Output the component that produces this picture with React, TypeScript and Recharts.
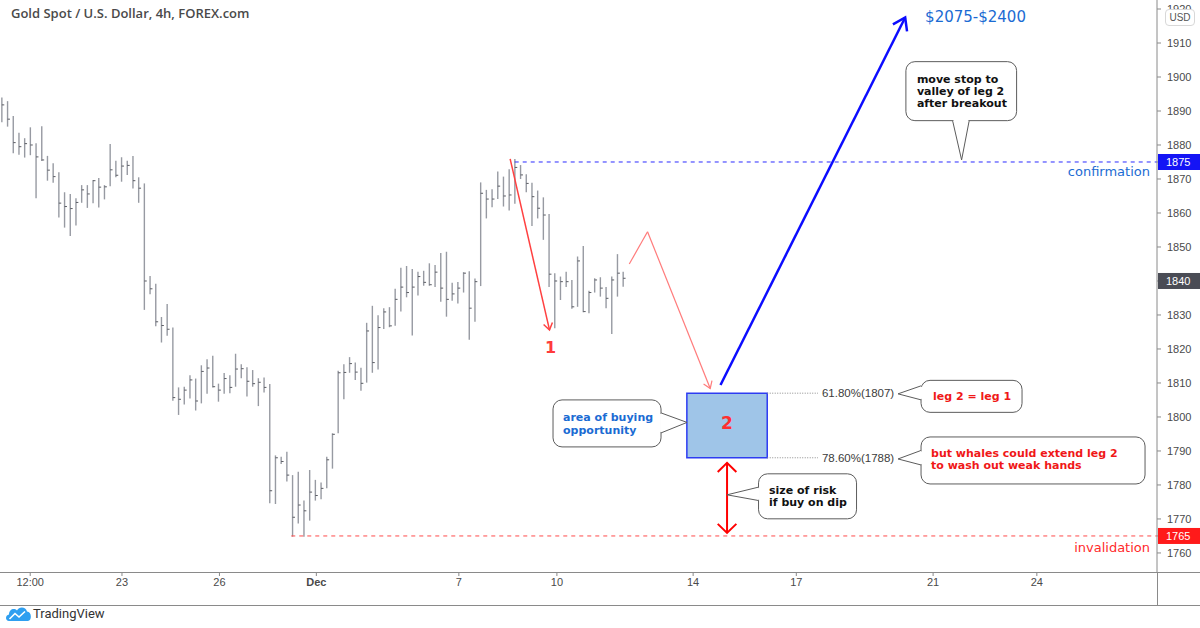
import React from "react";
import {
  ComposedChart,
  Bar,
  XAxis,
  YAxis,
  ReferenceLine,
  ReferenceArea,
  ReferenceDot,
} from "recharts";

// 4h OHLC bars, Gold spot
const highs = [
  1894.0, 1892.9, 1888.5, 1883.6, 1882.0, 1885.2, 1880.5, 1885.5, 1876.8, 1874.6,
  1872.0, 1866.1, 1865.6, 1864.3, 1868.2, 1868.2, 1869.7, 1870.3, 1868.2, 1880.3,
  1875.4, 1876.4, 1875.4, 1876.8, 1870.5, 1868.7, 1841.5, 1839.2, 1829.4, 1833.2,
  1826.3, 1808.7, 1808.9, 1812.3, 1811.3, 1815.2, 1817.0, 1818.0, 1809.8, 1812.9,
  1812.3, 1818.6, 1815.5, 1814.6, 1813.8, 1811.4, 1811.6, 1809.7, 1788.7, 1788.3,
  1789.8, 1782.9, 1783.9, 1775.4, 1784.4, 1781.5, 1780.7, 1788.3, 1795.2, 1813.6,
  1815.5, 1817.6, 1816.0, 1814.5, 1827.7, 1832.7, 1829.9, 1832.0, 1832.3, 1837.7,
  1843.9, 1844.4, 1843.5, 1842.7, 1843.0, 1845.2, 1844.7, 1848.2, 1848.6, 1839.5,
  1839.7, 1842.6, 1842.9, 1840.7, 1869.0, 1866.8, 1867.0, 1872.2, 1870.7, 1872.9,
  1875.9, 1874.1, 1871.4, 1868.9, 1866.6, 1864.6, 1859.7, 1842.3, 1841.3, 1842.7,
  1840.3, 1847.2, 1850.3, 1837.1, 1840.8, 1841.1, 1838.2, 1841.3, 1847.9, 1842.7,
];
const lows = [
  1886.7, 1885.4, 1877.6, 1877.1, 1876.3, 1877.0, 1864.3, 1875.3, 1869.5, 1868.9,
  1858.7, 1855.7, 1853.2, 1856.3, 1863.0, 1861.5, 1862.9, 1861.6, 1864.0, 1867.9,
  1870.5, 1869.2, 1871.2, 1867.2, 1863.0, 1831.5, 1836.1, 1826.7, 1821.9, 1823.9,
  1804.8, 1800.6, 1803.7, 1805.4, 1801.9, 1804.0, 1806.8, 1808.7, 1804.5, 1806.8,
  1807.0, 1808.9, 1811.4, 1806.0, 1808.9, 1803.2, 1807.2, 1774.6, 1774.4, 1786.2,
  1781.0, 1764.8, 1768.7, 1764.8, 1769.5, 1775.4, 1775.8, 1779.0, 1784.8, 1795.2,
  1805.2, 1813.0, 1810.9, 1807.7, 1810.1, 1813.0, 1814.0, 1825.9, 1826.4, 1826.8,
  1831.0, 1835.2, 1824.0, 1835.7, 1838.6, 1838.6, 1838.2, 1833.9, 1829.5, 1834.2,
  1833.4, 1836.6, 1822.7, 1828.0, 1838.5, 1858.4, 1861.7, 1864.1, 1861.9, 1860.7,
  1862.7, 1870.0, 1866.1, 1856.2, 1858.4, 1852.1, 1838.2, 1826.1, 1834.4, 1838.2,
  1831.8, 1832.4, 1830.8, 1830.5, 1836.6, 1835.4, 1832.0, 1824.4, 1835.4, 1838.3,
];
const closes = [
  1891.8, 1887.6, 1880.7, 1879.5, 1880.4, 1880.0, 1876.5, 1875.6, 1872.6, 1870.7,
  1862.9, 1861.9, 1861.3, 1863.1, 1866.8, 1865.6, 1869.5, 1867.6, 1867.7, 1872.7,
  1871.1, 1873.8, 1874.0, 1869.5, 1867.3, 1840.0, 1837.7, 1828.0, 1826.9, 1825.8,
  1805.7, 1805.2, 1807.9, 1810.9, 1804.7, 1813.4, 1814.4, 1808.9, 1807.9, 1811.3,
  1808.7, 1814.1, 1814.2, 1810.5, 1809.8, 1810.2, 1808.7, 1778.3, 1788.0, 1786.9,
  1782.9, 1770.5, 1774.1, 1772.4, 1777.9, 1776.9, 1779.0, 1787.4, 1794.9, 1813.0,
  1813.1, 1815.7, 1813.2, 1809.9, 1825.3, 1816.0, 1826.3, 1830.9, 1826.8, 1834.6,
  1838.2, 1836.6, 1838.2, 1841.3, 1839.6, 1838.9, 1842.6, 1837.9, 1834.6, 1836.2,
  1837.9, 1842.3, 1832.0, 1839.8, 1865.8, 1864.1, 1864.1, 1867.9, 1865.0, 1865.3,
  1873.4, 1871.2, 1868.7, 1864.8, 1861.4, 1859.4, 1842.0, 1840.0, 1839.8, 1839.8,
  1832.4, 1845.9, 1831.0, 1836.6, 1840.3, 1837.9, 1834.9, 1840.3, 1842.3, 1840.8,
];

// time axis (bar index) and price axis
const xTickPos = [5, 21.1, 38.2, 55.2, 80.2, 97.4, 121.3, 139.4, 163.4, 181.6];
const xTickLabels = ["12:00", "23", "26", "Dec", "7", "10", "14", "17", "21", "24"];
const yTickValues = [
  1760, 1770, 1780, 1790, 1800, 1810, 1820, 1830, 1850, 1860, 1870, 1880, 1890, 1900,
  1910, 1920,
];
const badgeValues = [1765, 1840, 1875];
const badgeColors = ["#ff1a1a", "#4a4c55", "#1414f5"];

// levels & annotations (bar index, price)
const confirmLevel = 1875;
const invalidLevel = 1765;
const fibLevels = [1807, 1788];
const fibLabels = ["61.80%(1807)", "78.60%(1788)"];
const legOne = [
  { x: 89.2, y: 1875.9 },
  { x: 96.1, y: 1825.6 },
];
const projection = [
  { x: 110.1, y: 1845.0 },
  { x: 113.3, y: 1854.5 },
  { x: 124.3, y: 1808.4 },
];
const target = [
  { x: 126.1, y: 1809.4 },
  { x: 158.5, y: 1917.5 },
];
const risk = [
  { x: 127.25, y: 1786.5 },
  { x: 127.25, y: 1765.9 },
];
const buyZone = { x1: 120.2, x2: 134.3, y1: 1788, y2: 1807 };

const data = highs.map((h, i) => ({
  i,
  range: [lows[i], h],
  high: h,
  low: lows[i],
  close: closes[i],
}));

const BLUE_TXT = "#1b6bd3";
const RED_TXT = "#f01818";
const BOLD = { fontFamily: "DejaVu Sans", fontWeight: 700, fontSize: 11 };

const OhlcBar = (p: any) => {
  const { x, y, width, height, payload } = p;
  if (!payload) return <g />;
  const cx = x + width / 2;
  const top = Math.min(y, y + height);
  const h = Math.abs(height);
  const cy = top + ((payload.high - payload.close) / (payload.high - payload.low)) * h;
  return (
    <g>
      <line x1={cx} x2={cx} y1={top} y2={top + h} stroke="#979aa2" strokeWidth={1.4} />
      <line x1={cx} x2={cx + 2.4} y1={cy} y2={cy} stroke="#5a5c63" strokeWidth={1} />
    </g>
  );
};

function head(x1: number, y1: number, x2: number, y2: number, len: number, ang: number) {
  const t = Math.atan2(y2 - y1, x2 - x1) + Math.PI;
  const a = [x2 + len * Math.cos(t - ang), y2 + len * Math.sin(t - ang)];
  const b = [x2 + len * Math.cos(t + ang), y2 + len * Math.sin(t + ang)];
  return `M${a[0]},${a[1]} L${x2},${y2} L${b[0]},${b[1]}`;
}

const arrow =
  (color: string, w: number, len: number, ang: number, endHead: boolean, startHead = false) =>
  (p: any) => {
    const { x1, y1, x2, y2 } = p;
    return (
      <g>
        <line x1={x1} y1={y1} x2={x2} y2={y2} stroke={color} strokeWidth={w} />
        {endHead && <path d={head(x1, y1, x2, y2, len, ang)} fill="none" stroke={color} strokeWidth={w} />}
        {startHead && <path d={head(x2, y2, x1, y1, len, ang)} fill="none" stroke={color} strokeWidth={w} />}
      </g>
    );
  };

const levelLine = (color: string, textColor: string, label: string, dy: number) => (p: any) => {
  const { x1, y1, x2 } = p;
  return (
    <g>
      <line x1={x1} y1={y1} x2={x2} y2={y1} stroke={color} strokeWidth={1} strokeDasharray="4 4" />
      <text x={x2 - 7} y={y1 + dy} textAnchor="end" fill={textColor} fontFamily="DejaVu Sans" fontSize={13}>
        {label}
      </text>
    </g>
  );
};

const fibLine = (label: string) => (p: any) => {
  const { x1, y1, x2 } = p;
  return (
    <g>
      <line x1={x1} y1={y1} x2={x2} y2={y1} stroke="#8a8a8a" strokeWidth={1} strokeDasharray="1 1.5" />
      <text x={x2 + 4} y={y1 + 4} fill="#3c3c3c" fontFamily="Liberation Sans" fontSize={11.5}>
        {label}
      </text>
    </g>
  );
};

type Geom = {
  dx: number;
  dy: number;
  w: number;
  h: number;
  side: "left" | "right" | "bottom";
  b1: number;
  b2: number;
  tx: number;
  ty: number[];
  anchor?: "start" | "middle";
};

const callout = (lines: string[], color: string, g: Geom) => (p: any) => {
  const { cx, cy } = p;
  const bx = cx + g.dx;
  const by = cy + g.dy;
  let p1: number[], p2: number[], c1: number[], c2: number[];
  if (g.side === "right") {
    p1 = [bx + g.w, cy + g.b1];
    p2 = [bx + g.w, cy + g.b2];
    c1 = [p1[0], p1[1] + 1];
    c2 = [p2[0], p2[1] - 1];
  } else if (g.side === "left") {
    p1 = [bx, cy + g.b1];
    p2 = [bx, cy + g.b2];
    c1 = [p1[0], p1[1] + 1];
    c2 = [p2[0], p2[1] - 1];
  } else {
    p1 = [cx + g.b1, by + g.h];
    p2 = [cx + g.b2, by + g.h];
    c1 = [p1[0] + 1, p1[1]];
    c2 = [p2[0] - 1, p2[1]];
  }
  return (
    <g>
      <rect x={bx} y={by} width={g.w} height={g.h} rx={9} fill="#fff" stroke="#5c5c5c" strokeWidth={1} />
      <path d={`M${p1[0]},${p1[1]} L${cx},${cy} L${p2[0]},${p2[1]}`} fill="#fff" stroke="#5c5c5c" strokeWidth={1} />
      <line x1={c1[0]} y1={c1[1]} x2={c2[0]} y2={c2[1]} stroke="#fff" strokeWidth={2} />
      <text fill={color} textAnchor={g.anchor || "start"} {...BOLD}>
        {lines.map((l, k) => (
          <tspan key={k} x={cx + g.tx} y={cy + g.ty[k]}>
            {l}
          </tspan>
        ))}
      </text>
    </g>
  );
};

const textMark = (txt: string, color: string, size: number, anchor: "start" | "middle", weight = 400) => (p: any) => (
  <text x={p.cx} y={p.cy + size * 0.36} textAnchor={anchor} fill={color} fontFamily="DejaVu Sans" fontSize={size} fontWeight={weight}>
    {txt}
  </text>
);

const XTick = (p: any) => {
  const { x, y, payload } = p;
  const k = xTickPos.indexOf(payload.value);
  const label = xTickLabels[k];
  return (
    <text x={x} y={y + 8} textAnchor="middle" fill="#4a4a4a" fontFamily="Liberation Sans" fontSize={11} fontWeight={label === "Dec" ? 700 : 400}>
      {label}
    </text>
  );
};

const YTick = (p: any) => {
  const { x, y, payload } = p;
  const v = payload.value;
  const b = badgeValues.indexOf(v);
  if (b >= 0) {
    return (
      <g>
        <rect x={x - 9} y={y - 8} width={44} height={16} fill={badgeColors[b]} />
        <text x={x - 1} y={y + 4} fill="#fff" fontFamily="Liberation Sans" fontSize={11}>
          {v}
        </text>
      </g>
    );
  }
  return (
    <text x={x} y={y + 4} fill="#4a4a4a" fontFamily="Liberation Sans" fontSize={11}>
      {v}
    </text>
  );
};

export default function App() {
  return (
    <div style={{ position: "absolute", left: 0, top: 0, width: 1200, height: 628, background: "#fff", overflow: "hidden" }}>
      <ComposedChart width={1200} height={628} data={data} margin={{ top: 0, right: 0, left: 0, bottom: 23 }}>
        <XAxis
          type="number"
          dataKey="i"
          domain={[-0.3, 202.68]}
          allowDataOverflow
          ticks={xTickPos}
          interval={0}
          axisLine={false}
          tickLine={{ stroke: "#8a8a8a" }}
          tickSize={4}
          height={33}
          tick={<XTick />}
        />
        <YAxis
          orientation="right"
          type="number"
          domain={[1754.4, 1922.65]}
          allowDataOverflow
          ticks={[...yTickValues, ...badgeValues]}
          interval={0}
          width={43}
          axisLine={{ stroke: "#8a8a8a" }}
          tickLine={{ stroke: "#8a8a8a" }}
          tickSize={4}
          tickMargin={6}
          tick={<YTick />}
        />
        <Bar dataKey="range" barSize={4} shape={<OhlcBar />} isAnimationActive={false} />

        <ReferenceLine
          segment={[{ x: 90, y: confirmLevel }, { x: 202.68, y: confirmLevel }]}
          ifOverflow="visible"
          shape={levelLine("#2b2bff", BLUE_TXT, "confirmation", 14.5)}
        />
        <ReferenceLine
          segment={[{ x: 50.8, y: invalidLevel }, { x: 202.68, y: invalidLevel }]}
          ifOverflow="visible"
          shape={levelLine("#ff4a4a", "#ff2a2a", "invalidation", 16.5)}
        />

        {fibLevels.map((lv, k) => (
          <ReferenceLine
            key={lv}
            segment={[{ x: buyZone.x2, y: lv }, { x: 143.2, y: lv }]}
            ifOverflow="visible"
            shape={fibLine(fibLabels[k])}
          />
        ))}

        <ReferenceArea
          x1={buyZone.x1}
          x2={buyZone.x2}
          y1={buyZone.y1}
          y2={buyZone.y2}
          ifOverflow="visible"
          fill="#9fc5e8"
          fillOpacity={1}
          stroke="#2d3cf2"
          strokeWidth={1.5}
        />
        <ReferenceDot x={127.25} y={1798.25} r={1} ifOverflow="visible" shape={textMark("2", "#ff3030", 17, "middle", 700)} />

        <ReferenceLine segment={legOne} ifOverflow="visible" shape={arrow("#ff4040", 1.5, 8, 0.6, true)} />
        <ReferenceDot x={96.3} y={1820.6} r={1} ifOverflow="visible" shape={textMark("1", "#ff3b3b", 16, "middle", 700)} />

        <ReferenceLine segment={[projection[0], projection[1]]} ifOverflow="visible" shape={arrow("#ff7b7b", 1.2, 8, 0.6, false)} />
        <ReferenceLine segment={[projection[1], projection[2]]} ifOverflow="visible" shape={arrow("#ff7b7b", 1.2, 8, 0.6, true)} />

        <ReferenceLine segment={target} ifOverflow="visible" shape={arrow("#0c0cff", 2.5, 14, 0.6, true)} />
        <ReferenceDot x={162.0} y={1917.65} r={1} ifOverflow="visible" shape={textMark("$2075-$2400", BLUE_TXT, 15, "start")} />

        <ReferenceLine segment={risk} ifOverflow="visible" shape={arrow("#ff0000", 2, 13, 0.8, true, true)} />

        <ReferenceDot
          x={120.23}
          y={1798.4}
          r={1}
          ifOverflow="visible"
          shape={callout(["area of buying", "opportunity"], BLUE_TXT, {
            dx: -134, dy: -22.5, w: 108, h: 47, side: "right", b1: -9.5, b2: 10.5, tx: -124, ty: [-1.5, 11.5],
          })}
        />
        <ReferenceDot
          x={157.25}
          y={1806.8}
          r={1}
          ifOverflow="visible"
          shape={callout(["leg 2 = leg 1"], RED_TXT, {
            dx: 23, dy: -13.5, w: 101, h: 32, side: "left", b1: -8, b2: 6, tx: 74, ty: [6], anchor: "middle",
          })}
        />
        <ReferenceDot
          x={157.25}
          y={1787.65}
          r={1}
          ifOverflow="visible"
          shape={callout(["but whales could extend leg 2", "to wash out weak hands"], RED_TXT, {
            dx: 23, dy: -22, w: 224, h: 47, side: "left", b1: -8.5, b2: 6, tx: 33, ty: [-2, 10],
          })}
        />
        <ReferenceDot
          x={127.25}
          y={1777.1}
          r={1}
          ifOverflow="visible"
          shape={callout(["size of risk", "if buy on dip"], "#111", {
            dx: 31.5, dy: -21, w: 98, h: 45, side: "left", b1: -7.7, b2: 5.7, tx: 42, ty: [-1, 11],
          })}
        />
        <ReferenceDot
          x={168.4}
          y={1875.6}
          r={1}
          ifOverflow="visible"
          shape={callout(["move stop to", "valley of leg 2", "after breakout"], "#111", {
            dx: -55.7, dy: -98.3, w: 110.7, h: 59, side: "bottom", b1: -9, b2: 7.6, tx: -44.7, ty: [-77, -65, -53],
          })}
        />
      </ComposedChart>

      {/* TradingView chrome */}
      <div style={{ position: "absolute", left: 11, top: 4, fontFamily: "Open Sans", fontWeight: 600, fontSize: 13, color: "#4a4a4a" }}>
        Gold Spot / U.S. Dollar, 4h, FOREX.com
      </div>
      <div
        style={{
          position: "absolute", left: 1165, top: 9, width: 28, height: 15, border: "1px solid #d8d8d8", borderRadius: 4,
          background: "#fff", fontFamily: "Liberation Sans", fontSize: 10, color: "#555", textAlign: "center", lineHeight: "15px",
        }}
      >
        USD
      </div>
      <div style={{ position: "absolute", left: 0, top: 572, width: 1200, height: 1, background: "#8a8a8a" }} />
      <div style={{ position: "absolute", left: 0, top: 605, width: 1200, height: 1, background: "#8a8a8a" }} />
      <div style={{ position: "absolute", left: 1157, top: 572, width: 1, height: 34, background: "#8a8a8a" }} />
      <svg style={{ position: "absolute", left: 5, top: 605 }} width={28} height={18}>
        <path d="M4 16 C0 16 0 10 4 9.5 C4 4.5 9 2.5 12 5.5 C14 1 21 1.5 22 6.5 C27 6.5 27 16 23 16 Z" fill="#2f9ff0" />
        <polyline points="4.5,14 10,8.5 14,12 20,6.5" fill="none" stroke="#fff" strokeWidth={1.6} />
      </svg>
      <div style={{ position: "absolute", left: 33, top: 606, fontFamily: "Roboto", fontSize: 13, color: "#333" }}>TradingView</div>
    </div>
  );
}
